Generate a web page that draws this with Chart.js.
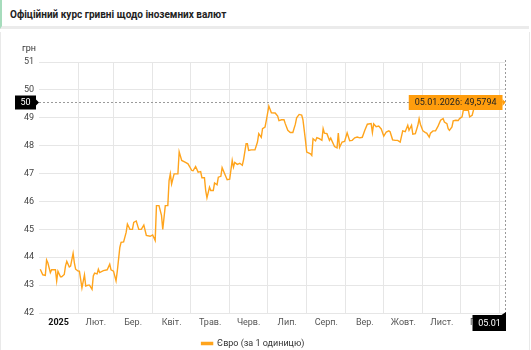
<!DOCTYPE html>
<html>
<head>
<meta charset="utf-8">
<script src="https://cdn.jsdelivr.net/npm/chart.js@4.4.1/dist/chart.umd.min.js"></script>
<style>
body{margin:0;background:#fff;font-family:Roboto,sans-serif;overflow:hidden;}
.head{position:absolute;left:0;top:0;width:529px;height:29px;line-height:30px;border-left:2px solid #a6dcbc;border-bottom:3px solid #ebebeb;padding-left:8px;font-size:10px;font-weight:bold;color:#222;box-sizing:border-box;}
.box{position:absolute;left:0;top:32px;width:528px;height:326px;border-left:1px solid #e9e9e9;border-right:1px solid #e9e9e9;}
</style>
</head>
<body>
<div class="head">Офіційний курс гривні щодо іноземних валют</div>
<div class="box"><canvas id="myChart"></canvas></div>
<script>
'use strict'
// days since 01.01.2025 and NBU euro rate
let dayOffsets=[1,3,5,6,7,9,10,13,14,15,
17,18,20,21,22,24,25,27,28,29,
31,32,34,36,37,39,40,42,43,44,
46,47,48,51,54,56,57,59,61,62,
64,65,67,69,70,72,74,75,77,79,
81,83,85,88,90,92,93,95,97,98,
100,102,103,104,105,107,110,111,113,116,
118,121,122,124,126,128,129,131,132,133,
135,136,138,139,141,142,144,145,147,149,
151,153,154,155,157,159,161,162,164,165,
166,168,171,173,174,176,177,179,180,182,
184,187,189,190,192,194,195,197,199,201,
203,204,206,208,209,211,212,215,216,217,
219,220,222,224,225,226,228,230,231,233,
234,236,237,238,240,242,244,246,248,250,
252,254,256,258,260,263,264,265,267,269,
271,273,275,277,278,280,282,284,286,288,
290,292,293,295,296,298,300,301,302,304,
306,307,309,310,312,314,316,318,320,321,
323,324,325,327,328,330,332,333,335,336,
338,340,341,343,344,345,349,354,359,363,
369];
let euroRates=[43.57,43.37,43.35,43.9,43.8,43.45,43.55,43.55,43.15,43.5,
43.3,43.3,43.38,43.69,43.85,43.65,43.68,44.14,43.8,43.57,
43.5,43.5,42.9,43.37,42.97,43.0,43.0,42.85,43.33,43.43,
43.4,43.57,43.45,43.52,43.55,43.75,43.55,43.5,43.15,43.5,
44.35,44.53,44.55,44.89,45.19,45.0,45.0,45.25,45.3,45.0,
45.0,45.15,44.78,44.75,44.8,44.6,45.85,45.85,45.5,45.0,
45.85,45.85,46.75,46.99,46.63,46.99,46.99,47.78,47.47,47.4,
47.35,47.11,47.1,47.25,47.05,47.07,46.85,46.85,46.39,46.13,
46.51,46.39,46.39,46.66,46.6,46.87,46.9,47.21,46.99,46.78,
46.8,47.47,47.23,47.4,47.33,47.37,47.3,47.5,48.07,48.07,
47.83,47.85,47.85,48.13,48.43,48.3,48.61,48.67,48.91,49.42,
49.18,49.17,49.06,48.9,48.93,48.93,48.79,48.55,48.47,48.47,
48.77,49.0,49.12,49.1,48.93,48.19,47.77,47.71,47.65,48.25,
48.17,48.29,48.25,48.19,48.61,48.45,48.43,48.19,48.27,48.07,
47.97,47.92,48.45,47.94,48.13,48.15,48.46,48.18,48.19,48.28,
48.31,48.28,48.3,48.55,48.77,48.79,48.47,48.78,48.68,48.7,
48.6,48.34,48.49,48.53,48.5,48.21,48.19,48.19,48.13,48.53,
48.5,48.73,48.55,48.73,48.41,48.43,48.73,48.97,48.77,48.53,
48.47,48.45,48.31,48.45,48.53,48.53,48.7,48.91,48.97,48.85,
48.79,48.61,48.55,48.67,48.89,48.91,48.9,48.97,49.03,49.27,
49.27,49.27,49.03,49.09,49.27,49.39,49.5,49.45,49.6,49.55,
49.5794];

let monthLabels=['2025','Лют.','Бер.','Квіт.','Трав.','Черв.','Лип.','Серп.','Вер.','Жовт.','Лист.','Груд.'];
let monthStarts=[0,31,59,90,120,151,181,212,243,273,304,334,365];
let seriesName='Євро (за 1 одиницю)';
let unitLabel='грн';
let lastDate='05.01.2026';
let lastDateShort='05.01';

let lineColor='#ffa41c';
let midTicks=[];
for(let i=0;i<monthLabels.length;i++){
  midTicks.push((monthStarts[i]+monthStarts[i+1])/2);
}

let points=[];
for(let i=0;i<dayOffsets.length;i++){
  points.push({x:dayOffsets[i],y:euroRates[i]});
}

//-------------------------------------
let markers={
  id:'markers',
  afterDatasetsDraw(chart){
    let ctx=chart.ctx;
    let area=chart.chartArea;
    let xs=chart.scales.x, ys=chart.scales.y;
    let n=dayOffsets.length-1;
    let lx=Math.round(xs.getPixelForValue(dayOffsets[n]))+0.5;
    let ly=Math.round(ys.getPixelForValue(euroRates[n]))+0.5;
    ctx.save();
    ctx.strokeStyle='#9a9a9a';
    ctx.lineWidth=1;
    ctx.setLineDash([2,2]);
    ctx.beginPath();
    ctx.moveTo(area.left,ly);ctx.lineTo(lx,ly);
    ctx.moveTo(lx,area.top-2);ctx.lineTo(lx,area.bottom);
    ctx.stroke();
    ctx.setLineDash([]);

    ctx.font='9px Roboto';
    ctx.textBaseline='middle';
    ctx.textAlign='center';

    // value marker on the y axis
    ctx.fillStyle='#000';
    let r=area.left-3;
    ctx.fillRect(r-21,ly-7,21,14);
    ctx.beginPath();ctx.moveTo(r,ly-3);ctx.lineTo(r+3,ly);ctx.lineTo(r,ly+3);ctx.fill();
    ctx.fillStyle='#fff';
    ctx.fillText(String(Math.round(euroRates[n])),r-10.5,ly+0.5);

    // tooltip
    let label=lastDate+': '+euroRates[n].toFixed(4).replace('.',',');
    let tw=ctx.measureText(label).width+12;
    let tr=lx-3;
    ctx.fillStyle='#ff9d0d';
    ctx.fillRect(tr-tw,ly-7.5,tw,15);
    ctx.beginPath();ctx.moveTo(tr,ly-3.5);ctx.lineTo(tr+3,ly);ctx.lineTo(tr,ly+3.5);ctx.fill();
    ctx.fillStyle='#222';
    ctx.fillText(label,tr-tw/2,ly+0.5);

    // date marker under the x axis
    ctx.fillStyle='#000';
    let bt=area.bottom+2;
    ctx.fillRect(lx-33,bt,33.5,16);
    ctx.beginPath();ctx.moveTo(lx-4,bt);ctx.lineTo(lx+0.5,bt-3);ctx.lineTo(lx+0.5,bt);ctx.fill();
    ctx.fillStyle='#fff';
    ctx.fillText(lastDateShort,lx-16,bt+8.5);

    // unit above the y axis
    ctx.fillStyle='#333';
    ctx.textAlign='right';
    ctx.fillText(unitLabel,area.left-3,area.top-13);
    ctx.restore();
  }
};

let chartCtx=document.getElementById('myChart').getContext('2d');
let myChart=new Chart(chartCtx,{
  type:'line',
  data:{
    datasets:[{
      label:seriesName,
      data:points,
      borderColor:lineColor,
      backgroundColor:lineColor,
      borderWidth:1.4,
      pointRadius:0,
      tension:0
    }]
  },
  options:{
    responsive:true,
    maintainAspectRatio:false,
    animation:false,
    layout:{padding:{top:30,right:24,left:0,bottom:0}},
    scales:{
      x:{
        type:'linear',
        min:0,
        max:dayOffsets[dayOffsets.length-1],
        afterBuildTicks(scale){
          let t=monthStarts.slice(1).concat(midTicks).sort((a,b)=>a-b);
          scale.ticks=t.map(v=>({value:v}));
        },
        afterFit(scale){scale.height=24;},
        border:{display:false},
        grid:{
          drawTicks:false,
          color:(c)=>(c.tick && midTicks.indexOf(c.tick.value)>=0)?'rgba(0,0,0,0)':'#e6e6e6'
        },
        ticks:{
          autoSkip:false,
          maxRotation:0,
          padding:4,
          color:(c)=>(c.tick && c.tick.label==='2025')?'#111':'#555',
          font:(c)=>({family:'Roboto',size:9,weight:(c.tick && c.tick.label==='2025')?'bold':'normal'}),
          callback:(v)=>{
            let i=midTicks.indexOf(v);
            return i>=0?monthLabels[i]:'';
          }
        }
      },
      y:{
        min:42,
        max:51,
        afterFit(scale){scale.width=38;},
        border:{display:false},
        grid:{drawTicks:false,color:'#e6e6e6'},
        ticks:{stepSize:1,padding:5,color:'#444',font:{family:'Roboto',size:9}}
      }
    },
    plugins:{
      legend:{
        position:'bottom',
        labels:{boxWidth:11,boxHeight:2,padding:2,color:'#333',font:{family:'Roboto',size:9}}
      },
      tooltip:{enabled:false}
    }
  },
  plugins:[markers]
});
</script>
</body>
</html>
